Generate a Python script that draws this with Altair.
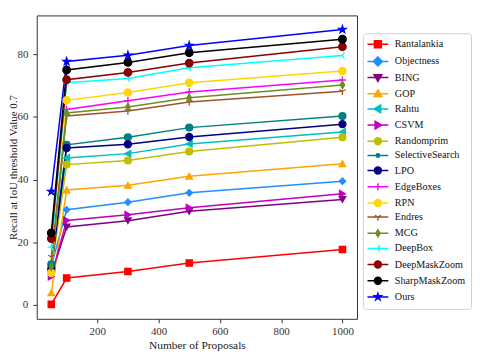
import altair as alt
import pandas as pd

proposals = [50, 100, 300, 500, 1000]

methods = ["Rantalankia", "Objectness", "BING", "GOP", "Rahtu", "CSVM", "Randomprim",
           "SelectiveSearch", "LPO", "EdgeBoxes", "RPN", "Endres", "MCG", "DeepBox",
           "DeepMaskZoom", "SharpMaskZoom", "Ours"]

recall = {
    "Rantalankia":     [0.2, 8.6, 10.7, 13.4, 17.7],
    "Objectness":      [12.5, 30.4, 32.8, 35.8, 39.5],
    "BING":            [9.6, 24.9, 26.9, 29.9, 33.7],
    "GOP":             [3.9, 36.7, 38.2, 41.1, 45.1],
    "Rahtu":           [12.7, 46.9, 48.3, 51.4, 55.2],
    "CSVM":            [9.1, 27.0, 28.8, 31.0, 35.5],
    "Randomprim":      [10.8, 44.8, 46.1, 49.0, 53.5],
    "SelectiveSearch": [13.0, 51.1, 53.5, 56.6, 60.3],
    "LPO":             [11.6, 50.1, 51.3, 53.6, 57.7],
    "EdgeBoxes":       [11.2, 62.4, 65.2, 68.0, 71.8],
    "RPN":             [10.2, 65.3, 67.8, 70.9, 74.7],
    "Endres":          [15.3, 60.3, 61.9, 64.8, 68.2],
    "MCG":             [12.2, 61.3, 63.2, 66.1, 70.2],
    "DeepBox":         [18.5, 70.9, 72.3, 75.7, 79.6],
    "DeepMaskZoom":    [21.2, 71.9, 74.2, 77.2, 82.4],
    "SharpMaskZoom":   [23.0, 75.0, 77.4, 80.5, 84.8],
    "Ours":            [36.2, 77.7, 79.7, 82.8, 87.9],
}

colors = ["#ff0000", "#1e90ff", "#800080", "#ffa500", "#00bfbf", "#bf00bf", "#bfbf00",
          "#008080", "#000080", "#ff00ff", "#ffd700", "#a0522d", "#6b8e23", "#00ffff",
          "#8b0000", "#000000", "#0000ff"]

STAR = "M0,-1L0.223,-0.307L0.951,-0.309L0.361,0.117L0.588,0.809L0,0.38L-0.588,0.809L-0.361,0.117L-0.951,-0.309L-0.223,-0.307Z"
PLUS = "M-1,0H1M0,-1V1"
TRI_DOWN = "M0,0L0,1M0,0L0.866,-0.5M0,0L-0.866,-0.5"
TRI_LEFT = "M0,0L-1,0M0,0L0.5,0.866M0,0L0.5,-0.866"
THIN_DIAMOND = "M0,-1L0.6,0L0,1L-0.6,0Z"
CIRCLE = "M1,0A1,1,0,1,1,-1,0A1,1,0,1,1,1,0Z"
SQUARE = "M-1,-1H1V1H-1Z"
DIAMOND = "M0,-1.3L1.3,0L0,1.3L-1.3,0Z"
T_UP = "M0,-1.1L1.1,0.8L-1.1,0.8Z"
T_DOWN = "M0,1.1L1.1,-0.8L-1.1,-0.8Z"
T_LEFT = "M-1.1,0L0.8,-1.1L0.8,1.1Z"
T_RIGHT = "M1.1,0L-0.8,-1.1L-0.8,1.1Z"
DOT = "M0.5,0A0.5,0.5,0,1,1,-0.5,0A0.5,0.5,0,1,1,0.5,0Z"

markers_plot = ["square", "diamond", "triangle-down", "triangle-up", "triangle-left",
                "triangle-right", "circle", "circle", "circle", PLUS, "circle", TRI_DOWN,
                THIN_DIAMOND, TRI_LEFT, "circle", "circle", STAR]
marker_sizes = [40, 60, 50, 50, 50, 50, 49, 12, 49, 64, 49, 64, 64, 64, 49, 56, 64]

LINE = "M-3,0H3"
markers_legend = [LINE + m for m in [SQUARE, DIAMOND, T_DOWN, T_UP, T_LEFT, T_RIGHT, CIRCLE,
                                     DOT, CIRCLE, PLUS, CIRCLE, TRI_DOWN, THIN_DIAMOND,
                                     TRI_LEFT, CIRCLE, CIRCLE, STAR]]

rows = []
for m in methods:
    for p, v in zip(proposals, recall[m]):
        rows.append({"method": m, "proposals": p, "recall": v})
df = pd.DataFrame(rows)

FONT = "Liberation Serif"

x_enc = alt.X("proposals:Q",
              scale=alt.Scale(domain=[2.5, 1047.5], nice=False, zero=False),
              axis=alt.Axis(values=[200, 400, 600, 800, 1000], format="d",
                            title="Number of Proposals", titlePadding=3))
y_enc = alt.Y("recall:Q",
              scale=alt.Scale(domain=[-4.4, 92.4], nice=False, zero=False),
              axis=alt.Axis(values=[0, 20, 40, 60, 80], format="d", labelPadding=5,
                            title="Recall at IoU threshold Value 0.7",
                            titleX=-23, titleBaseline="middle", titleFontSize=11))

lines = alt.Chart(df).mark_line(strokeWidth=1.5).encode(
    x=x_enc, y=y_enc,
    color=alt.Color("method:N", scale=alt.Scale(domain=methods, range=colors), legend=None),
)

points = alt.Chart(df).mark_point(filled=True, opacity=1, strokeWidth=1.3).encode(
    x=x_enc, y=y_enc,
    fill=alt.Fill("method:N", scale=alt.Scale(domain=methods, range=colors), legend=None),
    stroke=alt.Stroke("method:N", scale=alt.Scale(domain=methods, range=colors), legend=None),
    shape=alt.Shape("method:N", scale=alt.Scale(domain=methods, range=markers_plot), legend=None),
    size=alt.Size("method:N", scale=alt.Scale(domain=methods, range=marker_sizes), legend=None),
)

leg = alt.Legend(orient="none", legendX=329, legendY=18, title=None,
                 symbolSize=49, symbolStrokeWidth=1.5, symbolOffset=4,
                 labelFont=FONT, labelFontSize=10.2, labelColor="#111", labelOffset=12,
                 rowPadding=2.3, padding=6, strokeColor="#d0d0d0", fillColor="white",
                 cornerRadius=3, labelLimit=200)

legend_layer = alt.Chart(df).transform_filter("false").mark_point(filled=True, opacity=1).encode(
    x=x_enc, y=y_enc,
    fill=alt.Fill("method:N", scale=alt.Scale(domain=methods, range=colors), legend=leg),
    stroke=alt.Stroke("method:N", scale=alt.Scale(domain=methods, range=colors), legend=leg),
    shape=alt.Shape("method:N", scale=alt.Scale(domain=methods, range=markers_legend), legend=leg),
)

chart = alt.layer(lines, points, legend_layer).resolve_scale(
    color="independent", fill="independent", stroke="independent",
    shape="independent", size="independent"
).properties(
    width=323, height=306,
    autosize=alt.AutoSizeParams(type="none"),
    padding={"left": 29, "top": 6, "right": 116, "bottom": 32},
).configure_view(
    stroke="#333", strokeWidth=1
).configure_axis(
    domain=False, grid=False, tickSize=4, tickColor="#333", tickWidth=1,
    labelFont=FONT, labelFontSize=11, labelColor="#333", labelPadding=3,
    titleFont=FONT, titleFontSize=11.5, titleFontWeight="normal", titleColor="#222",
)

chart.save("out.html", embed_options={"renderer": "svg", "actions": False})
